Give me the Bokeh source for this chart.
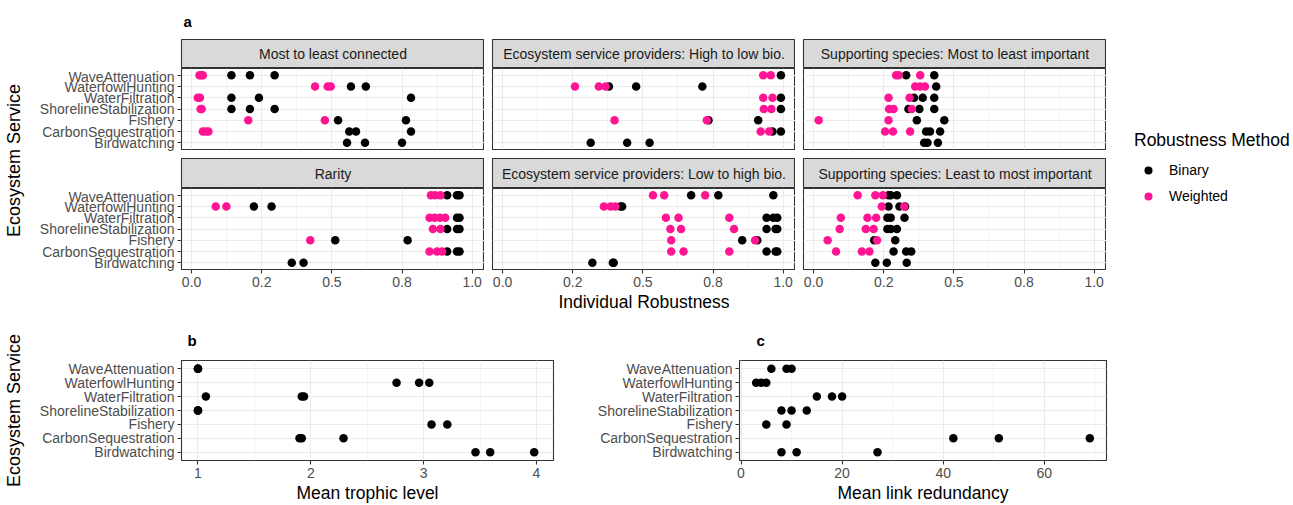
from bokeh.plotting import figure
from bokeh.layouts import row, column
from bokeh.models import (Range1d, FixedTicker, LinearAxis, Grid, Label, Title,
                          Legend, LegendItem)
from bokeh.embed import file_html
from bokeh.resources import INLINE

# ---------------------------------------------------------------- data
# services listed bottom -> top on the y axis
services = ["Birdwatching", "CarbonSequestration", "Fishery",
            "ShorelineStabilization", "WaterFiltration", "WaterfowlHunting",
            "WaveAttenuation"]
y_pos = [1, 2, 3, 4, 5, 6, 7]

robust_ticks = [0.0, 0.25, 0.5, 0.75, 1.0]
robust_tick_labels = ["0.0", "0.2", "0.5", "0.8", "1.0"]
robust_minor = [0.125, 0.375, 0.625, 0.875]

# Most to least connected
conn_bin = {
    "WaveAttenuation": [0.142, 0.208, 0.296],
    "WaterfowlHunting": [0.568, 0.621],
    "WaterFiltration": [0.142, 0.240, 0.782],
    "ShorelineStabilization": [0.142, 0.208, 0.296],
    "Fishery": [0.522, 0.764],
    "CarbonSequestration": [0.562, 0.586, 0.782],
    "Birdwatching": [0.554, 0.618, 0.750],
}
conn_wt = {
    "WaveAttenuation": [0.028, 0.034, 0.040],
    "WaterfowlHunting": [0.440, 0.485, 0.496],
    "WaterFiltration": [0.022, 0.030],
    "ShorelineStabilization": [0.032, 0.036],
    "Fishery": [0.202, 0.475],
    "CarbonSequestration": [0.040, 0.050, 0.060],
}

# Ecosystem service providers: high to low biomass
esp_hl_bin = {
    "WaveAttenuation": [0.992],
    "WaterfowlHunting": [0.379, 0.476, 0.712],
    "WaterFiltration": [0.992],
    "ShorelineStabilization": [0.992],
    "Fishery": [0.734, 0.911],
    "CarbonSequestration": [0.962, 0.992],
    "Birdwatching": [0.314, 0.444, 0.524],
}
esp_hl_wt = {
    "WaveAttenuation": [0.929, 0.956],
    "WaterfowlHunting": [0.258, 0.343, 0.367],
    "WaterFiltration": [0.929, 0.962],
    "ShorelineStabilization": [0.931, 0.958],
    "Fishery": [0.399, 0.728],
    "CarbonSequestration": [0.920, 0.950],
}

# Supporting species: most to least important
ss_ml_bin = {
    "WaveAttenuation": [0.330, 0.430],
    "WaterfowlHunting": [0.437],
    "WaterFiltration": [0.358, 0.389, 0.430],
    "ShorelineStabilization": [0.338, 0.377, 0.430],
    "Fishery": [0.368, 0.466],
    "CarbonSequestration": [0.401, 0.415, 0.451],
    "Birdwatching": [0.394, 0.406, 0.443],
}
ss_ml_wt = {
    "WaveAttenuation": [0.294, 0.303, 0.380],
    "WaterfowlHunting": [0.362, 0.380, 0.397],
    "WaterFiltration": [0.267, 0.342],
    "ShorelineStabilization": [0.269, 0.285, 0.350],
    "Fishery": [0.018, 0.267],
    "CarbonSequestration": [0.255, 0.283, 0.344],
}

# Rarity
rar_bin = {
    "WaveAttenuation": [0.911, 0.946, 0.955],
    "WaterfowlHunting": [0.222, 0.285],
    "WaterFiltration": [0.946, 0.955],
    "ShorelineStabilization": [0.911, 0.946, 0.955],
    "Fishery": [0.512, 0.770],
    "CarbonSequestration": [0.911, 0.946, 0.955],
    "Birdwatching": [0.357, 0.399],
}
rar_wt = {
    "WaveAttenuation": [0.853, 0.868, 0.887],
    "WaterfowlHunting": [0.086, 0.124],
    "WaterFiltration": [0.848, 0.866, 0.885, 0.904],
    "ShorelineStabilization": [0.860, 0.887],
    "Fishery": [0.423],
    "CarbonSequestration": [0.848, 0.875, 0.893],
}

# Ecosystem service providers: low to high biomass
esp_lh_bin = {
    "WaveAttenuation": [0.672, 0.769, 0.965],
    "WaterfowlHunting": [0.420, 0.426],
    "WaterFiltration": [0.941, 0.965, 0.979],
    "ShorelineStabilization": [0.941, 0.973, 0.979],
    "Fishery": [0.854, 0.908],
    "CarbonSequestration": [0.941, 0.973, 0.979],
    "Birdwatching": [0.320, 0.393, 0.396],
}
esp_lh_wt = {
    "WaveAttenuation": [0.536, 0.576, 0.722],
    "WaterfowlHunting": [0.361, 0.385, 0.402],
    "WaterFiltration": [0.582, 0.627, 0.808],
    "ShorelineStabilization": [0.598, 0.636, 0.825],
    "Fishery": [0.601, 0.900],
    "CarbonSequestration": [0.601, 0.645, 0.808],
}

# Supporting species: least to most important
ss_lm_bin = {
    "WaveAttenuation": [0.267, 0.275, 0.297],
    "WaterfowlHunting": [0.267, 0.306, 0.326],
    "WaterFiltration": [0.263, 0.275, 0.324],
    "ShorelineStabilization": [0.263, 0.275, 0.297],
    "Fishery": [0.216, 0.291],
    "CarbonSequestration": [0.285, 0.330, 0.348],
    "Birdwatching": [0.220, 0.261, 0.332],
}
ss_lm_wt = {
    "WaveAttenuation": [0.157, 0.220, 0.247],
    "WaterfowlHunting": [0.243, 0.323],
    "WaterFiltration": [0.097, 0.192, 0.223],
    "ShorelineStabilization": [0.093, 0.186, 0.214],
    "Fishery": [0.050, 0.226],
    "CarbonSequestration": [0.080, 0.172, 0.199],
}

# Mean trophic level
trophic = {
    "WaveAttenuation": [1.0, 1.0, 1.0],
    "WaterfowlHunting": [2.76, 2.96, 3.05],
    "WaterFiltration": [1.07, 1.92, 1.94],
    "ShorelineStabilization": [1.0, 1.0, 1.0],
    "Fishery": [3.07, 3.21],
    "CarbonSequestration": [1.90, 1.92, 2.29],
    "Birdwatching": [3.46, 3.59, 3.98],
}
trophic_ticks = [1, 2, 3, 4]
trophic_minor = [1.5, 2.5, 3.5]

# Mean link redundancy
redundancy = {
    "WaveAttenuation": [6, 9, 10],
    "WaterfowlHunting": [3, 4, 5],
    "WaterFiltration": [15, 18, 20],
    "ShorelineStabilization": [8, 10, 13],
    "Fishery": [5, 9],
    "CarbonSequestration": [42, 51, 69],
    "Birdwatching": [8, 11, 27],
}
redundancy_ticks = [0, 20, 40, 60]
redundancy_minor = [10, 30, 50, 70]

methods = ["Binary", "Weighted"]

# ---------------------------------------------------------------- style
FONT = "Liberation Sans"
INK = "#333333"
TICK_TXT = "#4D4D4D"
GRID = "#EBEBEB"
STRIP = "#D9D9D9"
COL_BIN = "#000000"
COL_WT = "#FF1493"
DOT = 8.5

PANEL_W = 303
PANEL_H = 81
STRIP_H = 30


def flatten(d):
    xs, ys = [], []
    for name, vals in d.items():
        for v in vals:
            xs.append(v)
            ys.append(y_pos[services.index(name)])
    return xs, ys


def new_fig(w, h, left, right, top, bottom, xr, yr):
    p = figure(width=w, height=h, x_range=xr, y_range=yr,
               x_axis_type=None, y_axis_type=None,
               output_backend="svg", toolbar_location=None,
               min_border=0, min_border_left=left, min_border_right=right,
               min_border_top=top, min_border_bottom=bottom)
    p.background_fill_color = "white"
    p.border_fill_color = "white"
    p.outline_line_color = INK
    p.outline_line_width = 1.1
    return p


def style_axis(ax):
    ax.axis_line_color = None
    ax.major_tick_line_color = INK
    ax.major_tick_line_width = 1.1
    ax.major_tick_in = 0
    ax.major_tick_out = 4
    ax.minor_tick_line_color = None
    ax.major_label_text_font = FONT
    ax.major_label_text_font_size = "14px"
    ax.major_label_text_color = TICK_TXT
    ax.major_label_standoff = 3
    ax.axis_label_text_font = FONT
    ax.axis_label_text_font_size = "17.5px"
    ax.axis_label_text_font_style = "normal"
    ax.axis_label_text_color = "black"
    ax.axis_label_standoff = 2


def add_grids(p, xticks, xminor):
    gx = Grid(dimension=0, ticker=FixedTicker(ticks=xticks, minor_ticks=xminor),
              grid_line_color=GRID, grid_line_width=1.1,
              minor_grid_line_color=GRID, minor_grid_line_width=0.6)
    gy = Grid(dimension=1, ticker=FixedTicker(ticks=y_pos),
              grid_line_color=GRID, grid_line_width=1.1)
    p.add_layout(gx)
    p.add_layout(gy)


def add_y_axis(p):
    ax = LinearAxis(ticker=FixedTicker(ticks=y_pos),
                    major_label_overrides=dict(zip(y_pos, services)))
    style_axis(ax)
    p.add_layout(ax, "left")


def add_x_axis(p, ticks, labels=None, title=None):
    ax = LinearAxis(ticker=FixedTicker(ticks=ticks))
    if labels is not None:
        ax.major_label_overrides = dict(zip(ticks, labels))
    if title:
        ax.axis_label = title
    style_axis(ax)
    p.add_layout(ax, "below")


def strip_fig(text, left, top):
    p = new_fig(left + PANEL_W, top + STRIP_H, left, 0, top, 0,
                Range1d(0, 1), Range1d(0, 1))
    p.background_fill_color = STRIP
    p.add_layout(Label(x=0.5, y=0.5, text=text, text_align="center",
                       text_baseline="middle", text_font=FONT,
                       text_font_size="14px", text_color="#1A1A1A"))
    return p


def panel_fig(bin_d, wt_d, left, bottom, show_y, show_x, xlabel=None):
    p = new_fig(left + PANEL_W, PANEL_H + bottom, left, 0, 0, bottom,
                Range1d(-0.036, 1.044), Range1d(0.4, 7.6))
    add_grids(p, robust_ticks, robust_minor)
    if show_y:
        add_y_axis(p)
    if show_x:
        add_x_axis(p, robust_ticks, robust_tick_labels, xlabel)
    bx, by = flatten(bin_d)
    wx, wy = flatten(wt_d)
    p.scatter(bx, by, size=DOT, fill_color=COL_BIN, line_color=None)
    p.scatter(wx, wy, size=DOT, fill_color=COL_WT, line_color=None)
    return p


def tag(p, letter, offset, standoff):
    # bold panel letter above the frame's left edge
    p.title.text = letter
    p.title.align = "left"
    p.title.offset = offset
    p.title.standoff = standoff
    p.title.text_font = FONT
    p.title.text_font_size = "15px"
    p.title.text_font_style = "bold"
    p.title.text_color = "black"


def ylab_fig(h, top, bottom):
    p = new_fig(30, h, 0, 0, top, bottom, Range1d(0, 1), Range1d(0, 1))
    p.outline_line_color = None
    p.add_layout(Title(text="Ecosystem Service", align="center",
                       text_font=FONT, text_font_size="18px",
                       text_font_style="normal", text_color="black",
                       standoff=2), "left")
    return p


# ---------------------------------------------------------------- panel a
L1, LG = 151, 8
TOP_A = 38
BOT_ROW1 = 9
BOT_ROW2 = 49

s1 = strip_fig("Most to least connected", L1, TOP_A)
tag(s1, "a", 2, 20)
s2 = strip_fig("Ecosystem service providers: High to low bio.", LG, TOP_A)
s3 = strip_fig("Supporting species: Most to least important", LG, TOP_A)
p1 = panel_fig(conn_bin, conn_wt, L1, BOT_ROW1, True, False)
p2 = panel_fig(esp_hl_bin, esp_hl_wt, LG, BOT_ROW1, False, False)
p3 = panel_fig(ss_ml_bin, ss_ml_wt, LG, BOT_ROW1, False, False)

s4 = strip_fig("Rarity", L1, 0)
s5 = strip_fig("Ecosystem service providers: Low to high bio.", LG, 0)
s6 = strip_fig("Supporting species: Least to most important", LG, 0)
p4 = panel_fig(rar_bin, rar_wt, L1, BOT_ROW2, True, True)
p5 = panel_fig(esp_lh_bin, esp_lh_wt, LG, BOT_ROW2, False, True,
               "Individual Robustness")
p6 = panel_fig(ss_lm_bin, ss_lm_wt, LG, BOT_ROW2, False, True)

TOP_H = TOP_A + STRIP_H + PANEL_H + BOT_ROW1 + STRIP_H + PANEL_H + BOT_ROW2

ylab_a = ylab_fig(TOP_H, 40, TOP_H - 40 - 2 * (160 - 40))

# legend: key renderers sit outside the visible range, only their glyphs show
lg = new_fig(187, TOP_H, 0, 0, 0, 0, Range1d(0, 1), Range1d(0, 1))
lg.outline_line_color = None
r_bin = lg.scatter(x=[-5], y=[-5], size=DOT, fill_color=COL_BIN, line_color=None)
r_wt = lg.scatter(x=[-5], y=[-5], size=DOT, fill_color=COL_WT, line_color=None)
legend = Legend(items=[LegendItem(label=methods[0], renderers=[r_bin]),
                       LegendItem(label=methods[1], renderers=[r_wt])],
                title="Robustness Method", location=(28, 74),
                title_text_font=FONT, title_text_font_size="17.5px",
                title_text_font_style="normal", title_text_color="black",
                title_standoff=9,
                label_text_font=FONT, label_text_font_size="14px",
                label_text_color="black",
                glyph_width=28, glyph_height=20, label_height=20,
                label_standoff=7, spacing=6, padding=0, margin=0,
                border_line_color=None, background_fill_alpha=0)
lg.add_layout(legend)

top = row(ylab_a,
          column(row(s1, s2, s3), row(p1, p2, p3), row(s4, s5, s6),
                 row(p4, p5, p6)),
          lg)

# ---------------------------------------------------------------- panels b, c
BOT_H = 505 - TOP_H
TOP_BC = 42
FRAME_BC = 105
BOTTOM_BC = BOT_H - TOP_BC - FRAME_BC

pb = new_fig(151 + 372 + 10, BOT_H, 151, 10, TOP_BC, BOTTOM_BC,
             Range1d(0.854, 4.151), Range1d(0.4, 7.6))
add_grids(pb, trophic_ticks, trophic_minor)
add_y_axis(pb)
add_x_axis(pb, trophic_ticks, title="Mean trophic level")
tx, ty = flatten(trophic)
pb.scatter(tx, ty, size=DOT, fill_color=COL_BIN, line_color=None)
tag(pb, "b", 6, 23)

pc = new_fig(176 + 367 + 187, BOT_H, 176, 187, TOP_BC, BOTTOM_BC,
             Range1d(-0.3, 72.3), Range1d(0.4, 7.6))
add_grids(pc, redundancy_ticks, redundancy_minor)
add_y_axis(pc)
add_x_axis(pc, redundancy_ticks, title="Mean link redundancy")
rx, ry = flatten(redundancy)
pc.scatter(rx, ry, size=DOT, fill_color=COL_BIN, line_color=None)
tag(pc, "c", 17, 23)

ylab_b = ylab_fig(BOT_H, 20, BOT_H - 20 - 2 * (413 - TOP_H - 20))

bottom = row(ylab_b, pb, pc)

page = column(top, bottom)
open("out.html", "w").write(file_html(page, INLINE))
